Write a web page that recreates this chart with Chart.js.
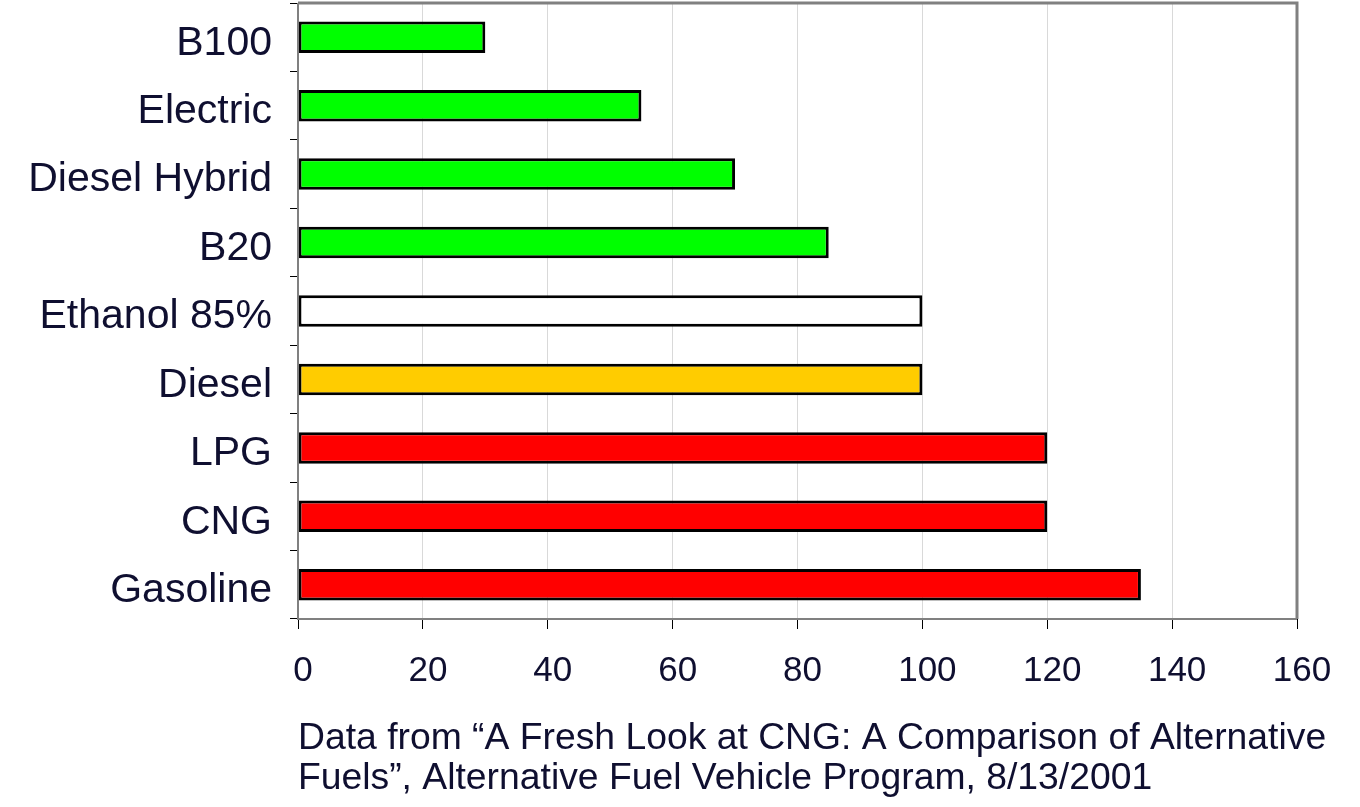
<!DOCTYPE html>
<html>
<head>
<meta charset="utf-8">
<script src="https://cdn.jsdelivr.net/npm/chart.js@4"></script>
<style>
  html, body { margin: 0; padding: 0; background: #ffffff; }
  #wrap { width: 1360px; height: 807px; position: relative; }
</style>
</head>
<body>
<div id="wrap"><canvas id="c" width="1360" height="807"></canvas></div>
<script>
const categories = ["B100", "Electric", "Diesel Hybrid", "B20", "Ethanol 85%", "Diesel", "LPG", "CNG", "Gasoline"];
const values = [30, 55, 70, 85, 100, 100, 120, 120, 135];
const barColors = ["#00ff00", "#00ff00", "#00ff00", "#00ff00", "#ffffff", "#ffcc00", "#ff0000", "#ff0000", "#ff0000"];
const xTicks = [0, 20, 40, 60, 80, 100, 120, 140, 160];
const footnoteLines = [
  "Data from \u201cA Fresh Look at CNG: A Comparison of Alternative",
  "Fuels\u201d, Alternative Fuel Vehicle Program, 8/13/2001"
];

const TEXT = "#0f0f30";
const FONT = "'Liberation Sans', Arial, sans-serif";

const framePlugin = {
  id: "frame",
  afterDraw(chart) {
    const { ctx, chartArea: a } = chart;
    ctx.save();
    ctx.strokeStyle = "#808080";
    ctx.lineWidth = 3;
    ctx.beginPath();
    ctx.moveTo(a.left, a.top);
    ctx.lineTo(a.right, a.top);
    ctx.lineTo(a.right, a.bottom);
    ctx.stroke();
    ctx.lineWidth = 2;
    ctx.beginPath();
    ctx.moveTo(a.left, a.top);
    ctx.lineTo(a.left, a.bottom);
    ctx.lineTo(a.right, a.bottom);
    ctx.stroke();
    ctx.fillStyle = TEXT;
    ctx.font = "37.3px " + FONT;
    ctx.textAlign = "left";
    ctx.textBaseline = "alphabetic";
    footnoteLines.forEach((t, i) => ctx.fillText(t, a.left, 749 + i * 40));
    ctx.restore();
  }
};

new Chart(document.getElementById("c"), {
  type: "bar",
  data: {
    labels: categories,
    datasets: [{
      data: values,
      backgroundColor: barColors,
      borderColor: "#000000",
      borderWidth: 3,
      borderSkipped: false,
      categoryPercentage: 1,
      barPercentage: 0.46
    }]
  },
  options: {
    indexAxis: "y",
    responsive: false,
    animation: false,
    devicePixelRatio: 1,
    layout: { padding: { top: 3, right: 63, bottom: 0, left: 0 } },
    plugins: { legend: { display: false }, tooltip: { enabled: false } },
    scales: {
      x: {
        min: 0, max: 160,
        afterBuildTicks(scale) { scale.ticks = xTicks.map(v => ({ value: v })); },
        afterFit(scale) { scale.height = 188; scale.paddingLeft = 0; scale.paddingRight = 0; },
        grid: { color: "#d9d9d9", lineWidth: 1, tickColor: "#000000", tickLength: 10, drawTicks: true },
        border: { display: false },
        ticks: { color: TEXT, font: { family: FONT, size: 35 }, padding: 21, maxRotation: 0, labelOffset: 5 }
      },
      y: {
        afterFit(scale) { scale.width = 298; scale.paddingTop = 0; scale.paddingBottom = 0; },
        grid: { drawOnChartArea: false, tickColor: "#000000", tickLength: 8, offset: true },
        border: { display: false },
        ticks: { color: TEXT, font: { family: FONT, size: 41 }, padding: 18, labelOffset: 6 }
      }
    }
  },
  plugins: [framePlugin]
});
</script>
</body>
</html>
